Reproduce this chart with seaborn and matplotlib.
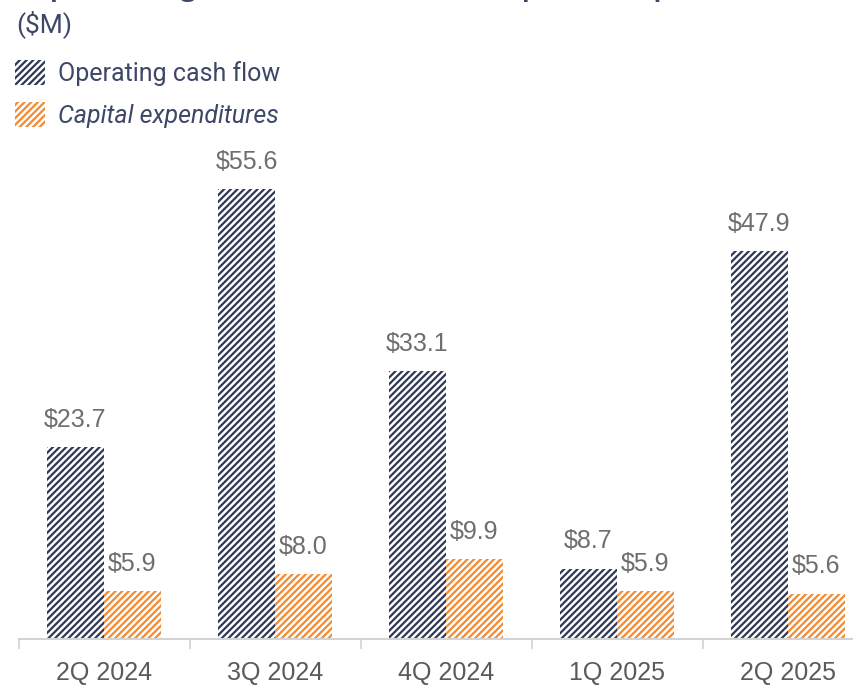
import matplotlib
matplotlib.use("Agg")
import matplotlib.pyplot as plt
from matplotlib.patches import Patch
import seaborn as sns
import pandas as pd

# Quarterly cash figures, $M
quarters = ["2Q 2024", "3Q 2024", "4Q 2024", "1Q 2025", "2Q 2025"]
operating_cash_flow = [23.7, 55.6, 33.1, 8.7, 47.9]
capital_expenditures = [5.9, 8.0, 9.9, 5.9, 5.6]
series_names = ["Operating cash flow", "Capital expenditures"]

NAVY = "#2e3754"
ORANGE = "#f28a30"
TEXT = "#3d4767"
VALUE_GREY = "#6e6e6e"
TICK_GREY = "#5a5a5a"
AXIS_GREY = "#d3d3d3"
HATCH = "/////"

df = pd.DataFrame({
    "quarter": quarters * 2,
    "value": operating_cash_flow + capital_expenditures,
    "series": [series_names[0]] * len(quarters) + [series_names[1]] * len(quarters),
})

sns.set_theme(style="white")
plt.rcParams["font.family"] = ["Liberation Sans", "DejaVu Sans"]
plt.rcParams["hatch.linewidth"] = 1.6

W, H = 854, 685
fig = plt.figure(figsize=(W / 100, H / 100), dpi=100)
ax = fig.add_axes([18.5 / W, 46 / H, 855 / W, 485.6 / H])

sns.barplot(
    data=df, x="quarter", y="value", hue="series",
    order=quarters, hue_order=series_names,
    palette=[NAVY, ORANGE], saturation=1, width=0.667,
    errorbar=None, legend=False, ax=ax,
)

# Hatched bars with value labels
for container, color in zip(ax.containers, [NAVY, ORANGE]):
    for bar in container:
        bar.set_facecolor("white")
        bar.set_edgecolor(color)
        bar.set_linewidth(0)
        bar.set_hatch(HATCH)
    ax.bar_label(
        container,
        labels=[f"${v:.1f}" for v in container.datavalues],
        padding=11, fontsize=18, color=VALUE_GREY,
    )

ax.set_xlim(-0.5, len(quarters) - 0.5)
ax.set_ylim(0, 60)
ax.set_xlabel("")
ax.set_ylabel("")
ax.set_yticks([])
ax.set_xticks(range(len(quarters)))
ax.set_xticklabels(quarters)
ax.set_xticks([i - 0.5 for i in range(len(quarters) + 1)], minor=True)
ax.tick_params(axis="x", which="major", bottom=True, length=0, pad=16,
               labelsize=18, labelcolor=TICK_GREY)
ax.tick_params(axis="x", which="minor", bottom=True, length=7, width=1.2,
               color=AXIS_GREY, direction="out")
sns.despine(ax=ax, left=True)
ax.spines["bottom"].set_color(AXIS_GREY)
ax.spines["bottom"].set_linewidth(1.5)

# Headline (runs off the top edge) and unit note
fig.text(17 / W, (H + 7.5) / H, "Operating cash flow and capital expenditures",
         fontsize=30, color=TEXT, va="baseline", ha="left")
fig.text(16 / W, (H - 24) / H, "($M)", fontsize=19, color=TEXT,
         va="center", ha="left", family=["Roboto", "DejaVu Sans"])

handles = [
    Patch(facecolor="white", edgecolor=NAVY, hatch=HATCH, linewidth=0, label=series_names[0]),
    Patch(facecolor="white", edgecolor=ORANGE, hatch=HATCH, linewidth=0, label=series_names[1]),
]
leg = fig.legend(
    handles=handles, loc="upper left", bbox_to_anchor=(15 / W, 1 - 60 / H),
    frameon=False, handlelength=1.2, handleheight=1.15, handletextpad=0.5,
    labelspacing=0.65, borderpad=0, borderaxespad=0, labelcolor=TEXT,
    prop={"family": ["Roboto", "DejaVu Sans"], "size": 18},
)
leg.get_texts()[1].set_fontstyle("italic")

fig.savefig("out.png", dpi=100)
